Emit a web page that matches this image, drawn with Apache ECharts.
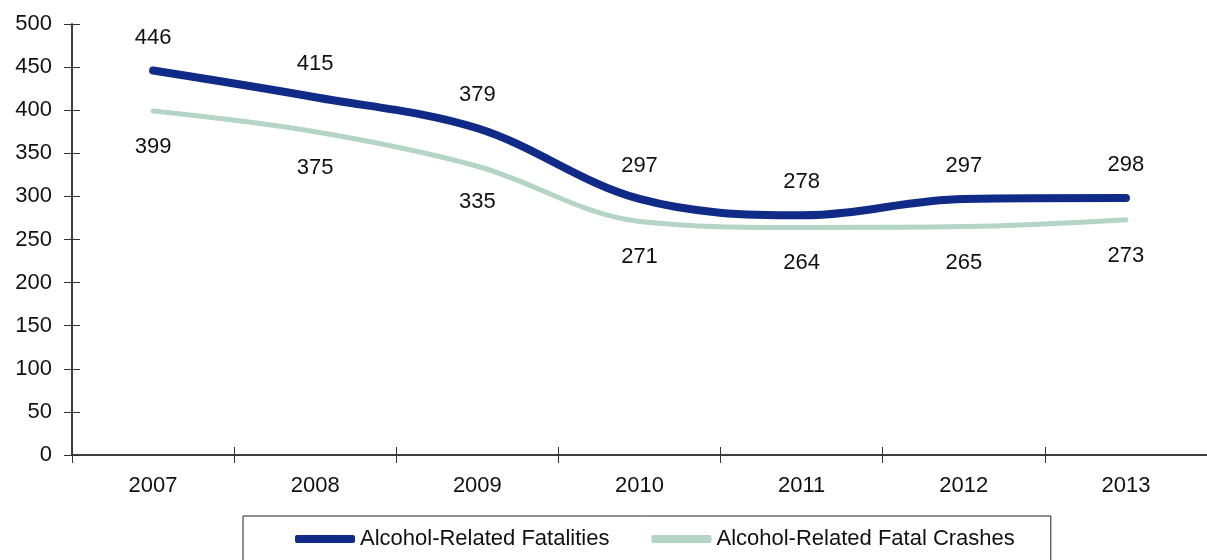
<!DOCTYPE html>
<html>
<head>
<meta charset="utf-8">
<script src="https://cdn.jsdelivr.net/npm/echarts@6/dist/echarts.min.js"></script>
<style>
  html, body { margin: 0; padding: 0; background: #fff; }
  #main { width: 1207px; height: 560px; }
</style>
</head>
<body>
<div id="main"></div>
<script>
// data
var years = ['2007', '2008', '2009', '2010', '2011', '2012', '2013'];
var fatalities = [446, 415, 379, 297, 278, 297, 298];
var fatalCrashes = [399, 375, 335, 271, 264, 265, 273];

var FONT = "'Liberation Sans Narrow', 'Arial Narrow', 'Liberation Sans', sans-serif";
var NAVY = '#0f2a87';
var SAGE = '#b3d4c6';
var AXIS = '#333333';

var chart = echarts.init(document.getElementById('main'));

var yBase = { type: 'value', min: 0, max: 500, interval: 50, splitLine: { show: false } };
var xBase = { type: 'category', data: years, boundaryGap: true };

chart.setOption({
  animation: false,
  textStyle: { fontFamily: FONT },
  grid: { left: 72, right: -9, top: 24, bottom: 105 },
  xAxis: [
    Object.assign({}, xBase, {
      axisLine: { show: true, lineStyle: { color: AXIS, width: 1.5 } },
      axisTick: { show: true, inside: false, length: 8, lineStyle: { color: AXIS, width: 1 } },
      axisLabel: { color: '#111', fontSize: 22, fontFamily: FONT, margin: 20 }
    }),
    // second copy only for the inward half of the ticks
    Object.assign({}, xBase, {
      position: 'bottom',
      axisLine: { show: true, lineStyle: { color: AXIS, width: 1.5 } },
      axisTick: { show: true, inside: true, length: 8, lineStyle: { color: AXIS, width: 1 } },
      axisLabel: { show: false }
    })
  ],
  yAxis: [
    Object.assign({}, yBase, {
      axisLine: { show: true, lineStyle: { color: AXIS, width: 1.5 } },
      axisTick: { show: true, inside: false, length: 8, lineStyle: { color: AXIS, width: 1 } },
      axisLabel: { color: '#111', fontSize: 22, fontFamily: FONT, margin: 20 }
    }),
    Object.assign({}, yBase, {
      position: 'left',
      offset: 0,
      axisLine: { show: true, lineStyle: { color: AXIS, width: 1.5 } },
      axisTick: { show: true, inside: true, length: 8, lineStyle: { color: AXIS, width: 1 } },
      axisLabel: { show: false }
    })
  ],
  legend: {
    left: 243,
    top: 516,
    padding: [12, 36, 40, 52],
    itemGap: 42,
    icon: 'roundRect',
    itemWidth: 60,
    itemHeight: 8,
    borderColor: '#222',
    borderWidth: 1,
    textStyle: { color: '#111', fontSize: 22, fontFamily: FONT }
  },
  series: [
    {
      name: 'Alcohol-Related Fatalities',
      type: 'line',
      data: fatalities,
      smooth: 0.35,
      symbol: 'circle',
      symbolSize: 0,
      showSymbol: true,
      lineStyle: { color: NAVY, width: 8, cap: 'round' },
      itemStyle: { color: NAVY },
      label: {
        show: true, position: 'top', distance: 22,
        color: '#111', fontSize: 22, fontFamily: FONT
      },
      z: 3
    },
    {
      name: 'Alcohol-Related Fatal Crashes',
      type: 'line',
      data: fatalCrashes,
      smooth: 0.35,
      symbol: 'circle',
      symbolSize: 0,
      showSymbol: true,
      lineStyle: { color: SAGE, width: 5, cap: 'round' },
      itemStyle: { color: SAGE },
      label: {
        show: true, position: 'bottom', distance: 25,
        color: '#111', fontSize: 22, fontFamily: FONT
      },
      z: 2
    }
  ]
});
</script>
</body>
</html>
